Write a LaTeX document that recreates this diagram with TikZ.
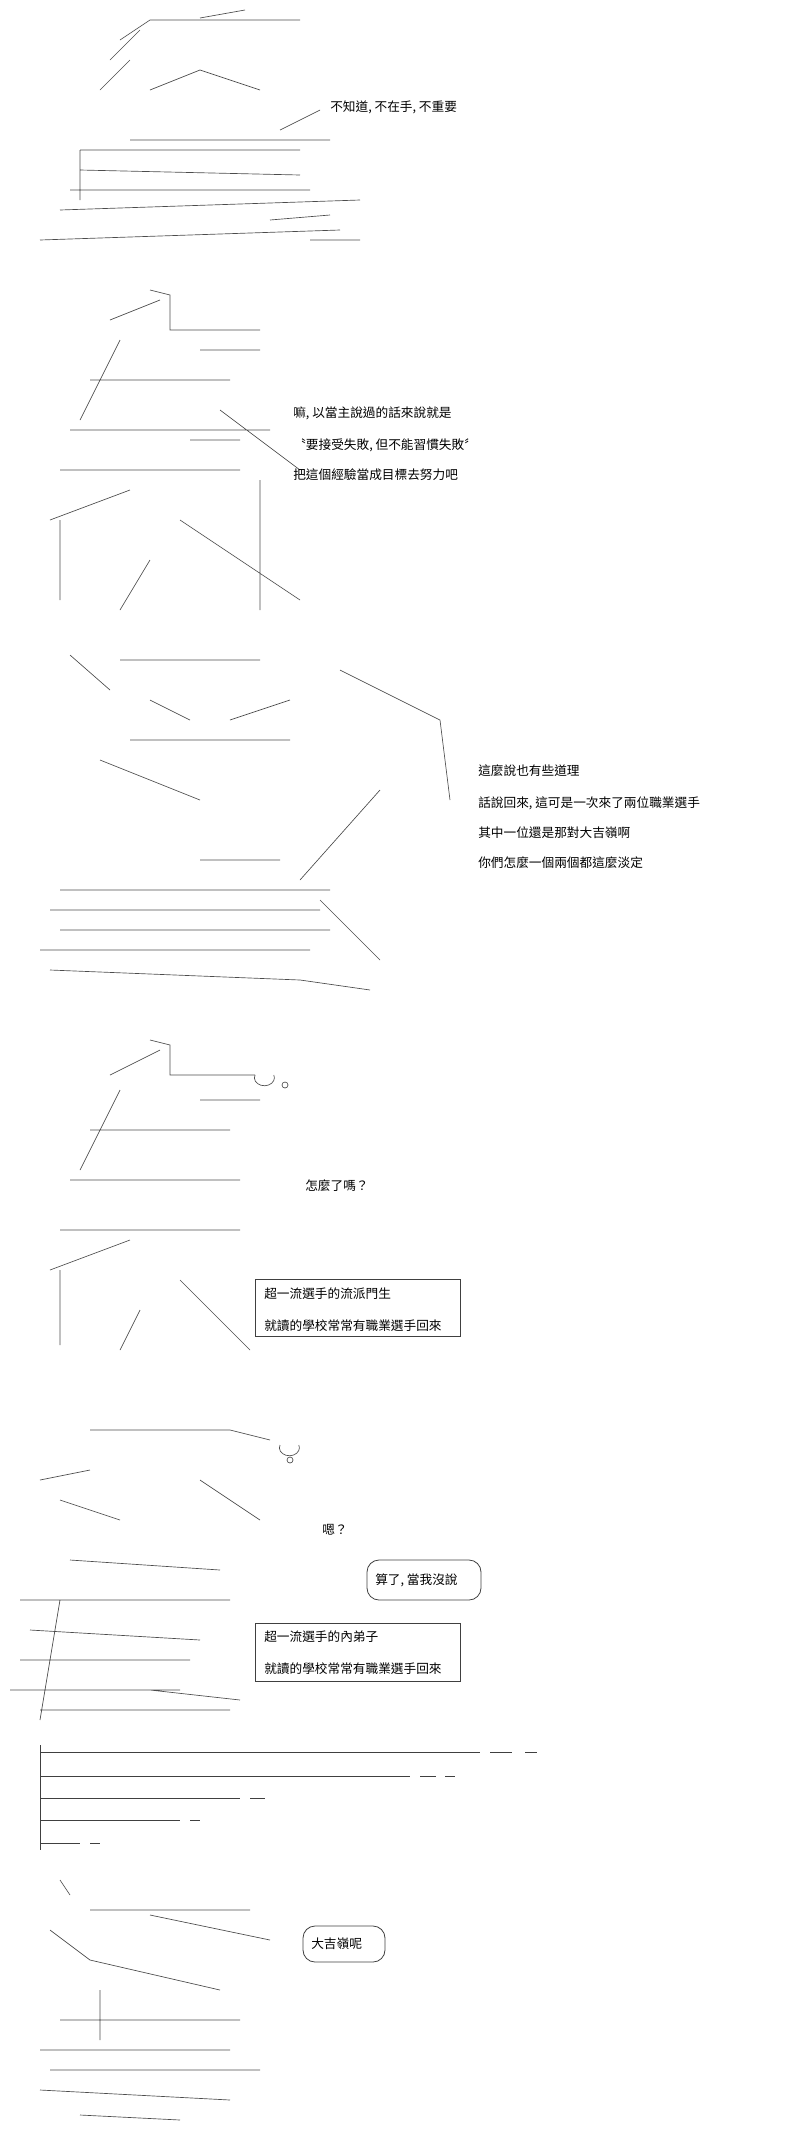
\documentclass[tikz,border=0pt]{standalone}
\usepackage{fontspec}
\newfontfamily\cjk{Noto Sans CJK TC}
\begin{document}
\begin{tikzpicture}[x=0.75pt,y=-0.75pt,
  say/.style={anchor=west,font=\cjk\fontsize{9.5}{11}\selectfont,inner sep=0pt},
  aa/.style={draw=black!70,line width=0.5pt},
  sep/.style={draw=black!75,line width=0.6pt},
  tbox/.style={draw=black!75,line width=0.6pt}]
\useasboundingbox (0,0) rectangle (800,2139);
% figure sketches (ascii-art characters as strokes)
\begin{scope}[aa]
 % panel 1
 \draw (200,18) -- (245,10) (120,40)--(150,20)--(300,20) (110,60)--(140,30) (100,90)--(130,60)
       (150,90)--(200,70)--(260,90) (130,140)--(330,140) (80,150)--(300,150) (80,170)--(300,175)
       (70,190)--(310,190) (60,210)--(360,200) (40,240)--(340,230) (270,220)--(330,215)
       (80,150)--(80,200) (280,130)--(320,110) (310,240)--(360,240);
 % panel 2
 \draw (150,290)--(170,295)--(170,330)--(260,330) (110,320)--(160,300) (80,420)--(120,340)
       (90,380)--(230,380) (70,430)--(270,430) (60,470)--(240,470) (50,520)--(130,490) (60,520)--(60,600)
       (180,520)--(300,600) (220,410)--(300,470) (260,480)--(260,610) (150,560)--(120,610)
       (200,350)--(260,350) (190,440)--(240,440);
 % panel 3
 \draw (70,655)--(110,690) (120,660)--(260,660) (150,700)--(190,720) (230,720)--(290,700)
       (340,670)--(440,720)--(450,800) (130,740)--(290,740) (100,760)--(200,800) (380,790)--(300,880)
       (60,890)--(330,890) (50,910)--(320,910) (60,930)--(330,930) (40,950)--(310,950) (50,970)--(300,980)
       (320,900)--(380,960) (300,980)--(370,990) (200,860)--(280,860);
 % panel 4
 \draw (150,1040)--(170,1045)--(170,1075)--(255,1075) (110,1075)--(160,1050) (80,1170)--(120,1090)
       (90,1130)--(230,1130) (70,1180)--(240,1180) (60,1230)--(240,1230) (50,1270)--(130,1240) (60,1270)--(60,1345)
       (180,1280)--(250,1350) (140,1310)--(120,1350) (200,1100)--(260,1100);
 \draw (255,1075) arc (200:-20:10 and 8);
 \draw (285,1085) circle (3);
 % panel 5
 \draw (90,1430)--(230,1430)--(270,1440) (40,1480)--(90,1470) (60,1500)--(120,1520) (200,1480)--(260,1520)
       (70,1560)--(220,1570) (20,1600)--(230,1600) (30,1630)--(200,1640) (20,1660)--(190,1660)
       (10,1690)--(180,1690) (40,1710)--(230,1710) (150,1690)--(240,1700) (60,1600)--(40,1720);
 \draw (280,1445) arc (200:-20:10 and 8); \draw (290,1460) circle (3);
 % panel 7
 \draw (60,1880)--(70,1895) (90,1910)--(250,1910) (50,1930)--(90,1960) (150,1915)--(270,1940)
       (90,1960)--(220,1990) (60,2020)--(240,2020) (40,2050)--(230,2050) (50,2070)--(260,2070)
       (40,2090)--(230,2100) (80,2115)--(180,2120) (100,1990)--(100,2040);
\end{scope}
% texts
\node[say] (t1) at (330,107) {不知道, 不在手, 不重要};
\node[say] (t2a) at (293,413) {嘛, 以當主說過的話來說就是};
\node[say] (t2b) at (293,445) {〝要接受失敗, 但不能習慣失敗〞};
\node[say] (t2c) at (293,475) {把這個經驗當成目標去努力吧};
\node[say] (t3a) at (478,771) {這麼說也有些道理};
\node[say] (t3b) at (478,803) {話說回來, 這可是一次來了兩位職業選手};
\node[say] (t3c) at (478,833) {其中一位還是那對大吉嶺啊};
\node[say] (t3d) at (478,863) {你們怎麼一個兩個都這麼淡定};
\node[say] (t4) at (305,1186) {怎麼了嗎？};
\node[tbox,minimum width=205*0.75pt,minimum height=57*0.75pt] (b1) at (358,1308) {};
\node[say] (b1a) at (264,1294) {超一流選手的流派門生};
\node[say] (b1b) at (264,1326) {就讀的學校常常有職業選手回來};
\node[say] (t5) at (322,1530) {嗯？};
\node[tbox,rounded corners=9pt,minimum width=114*0.75pt,minimum height=40*0.75pt] (bub1) at (424,1580) {};
\node[say] (t5b) at (375,1580) {算了, 當我沒說};
\node[tbox,minimum width=205*0.75pt,minimum height=58*0.75pt] (b2) at (358,1652) {};
\node[say] (b2a) at (264,1637) {超一流選手的內弟子};
\node[say] (b2b) at (264,1669) {就讀的學校常常有職業選手回來};
\node[tbox,rounded corners=9pt,minimum width=82*0.75pt,minimum height=36*0.75pt] (bub2) at (344,1944) {};
\node[say] (t7) at (311,1944) {大吉嶺呢};
% separators
\coordinate (s1) at (40,1752); \coordinate (s1e) at (480,1752);
\draw[sep] (s1)--(s1e) (490,1752)--(512,1752) (525,1752)--(537,1752);
\draw[sep] (40,1776)--(410,1776) (420,1776)--(436,1776) (445,1776)--(455,1776);
\draw[sep] (40,1798)--(240,1798) (250,1798)--(265,1798);
\draw[sep] (40,1820)--(180,1820) (190,1820)--(200,1820);
\draw[sep] (40,1843)--(80,1843) (90,1843)--(100,1843);
\draw[sep] (40,1745)--(40,1850);
\end{tikzpicture}
\end{document}
